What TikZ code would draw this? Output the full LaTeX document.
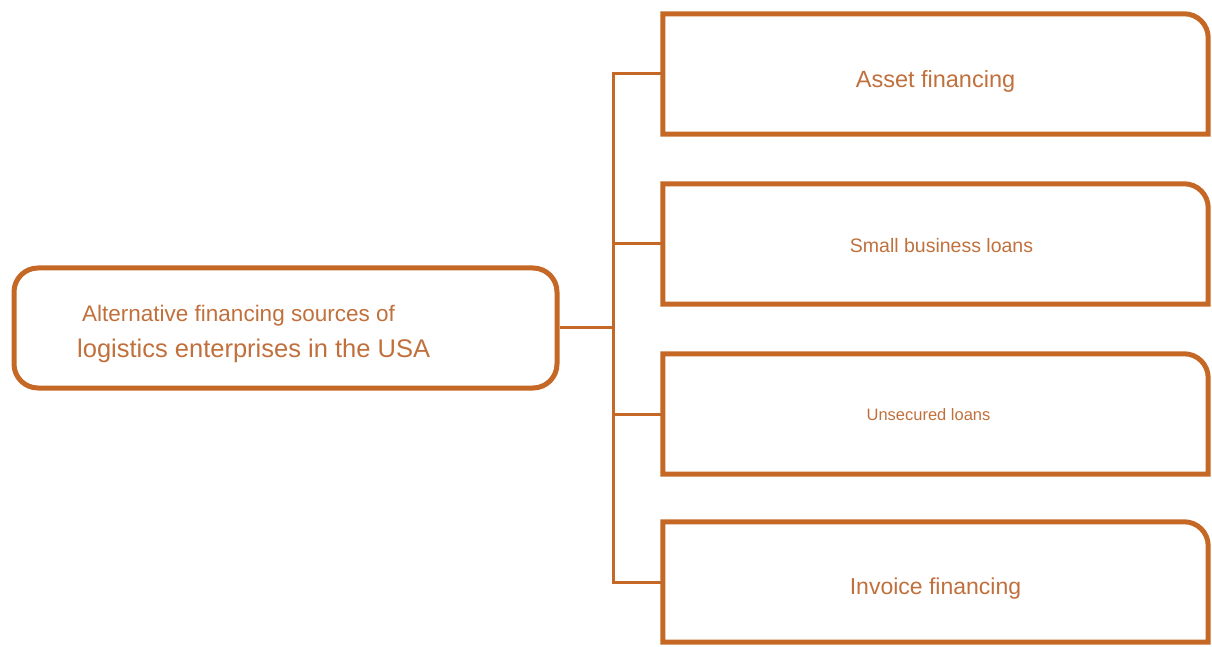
\documentclass[tikz,border=0pt]{standalone}
\usepackage{fontspec}
\setmainfont{Liberation Sans}
\usetikzlibrary{positioning, calc}
\definecolor{boxline}{RGB}{197,104,38}
\definecolor{boxtext}{RGB}{192,112,60}

\tikzset{
  item/.style={minimum width=545, minimum height=120, inner sep=0pt},
  itemtext/.style={text=boxtext, inner sep=0pt},
  srcbox/.style={draw=boxline, line width=5pt, rounded corners=24pt, minimum width=543, minimum height=120},
  link/.style={draw=boxline, line width=3pt}
}

\begin{document}
\begin{tikzpicture}[x=1pt, y=1pt]
      \useasboundingbox (0,0) rectangle (1212,646);

      \node[srcbox] (src) at (285.5,318) {};
      \node[anchor=base west, itemtext] (srcA) at (82,324) {\fontsize{22.5}{27}\selectfont Alternative financing sources of};
      \node[anchor=base west, itemtext] (srcB) at (77,289) {\fontsize{25.5}{30}\selectfont logistics enterprises in the USA};

      \node[item] (asset) at (935.5,572) {};
      \node[item] (small) at (935.5,402) {};
      \node[item] (unsec) at (935.5,232) {};
      \node[item] (invoice) at (935.5,64) {};

      \node[itemtext] (assetT) at ([yshift=-7]asset) {\fontsize{23.5}{28}\selectfont Asset financing};
      \node[itemtext] (smallT) at ([xshift=6,yshift=-2]small) {\fontsize{19.5}{24}\selectfont Small business loans};
      \node[itemtext] (unsecT) at ([xshift=-7,yshift=-1]unsec) {\fontsize{16.5}{20}\selectfont Unsecured loans};
      \node[itemtext] (invoiceT) at ([yshift=-7]invoice) {\fontsize{23}{28}\selectfont Invoice financing};

      % boxes on the right, only the top right corner is round
      \foreach \b in {asset, small, unsec, invoice} {
        \draw[boxline, line width=5pt] (\b.south west) -- (\b.north west) -- ([xshift=-24pt]\b.north east)
          arc (90:0:24) -- (\b.south east) -- cycle;
      }

      \draw[link] (src.east) -- ++(54,0) coordinate (bus);
      \draw[link] (bus) |- (asset.west);
      \draw[link] (bus) |- (small.west);
      \draw[link] (bus) |- (unsec.west);
      \draw[link] (bus) |- (invoice.west);
    \end{tikzpicture}
\end{document}
